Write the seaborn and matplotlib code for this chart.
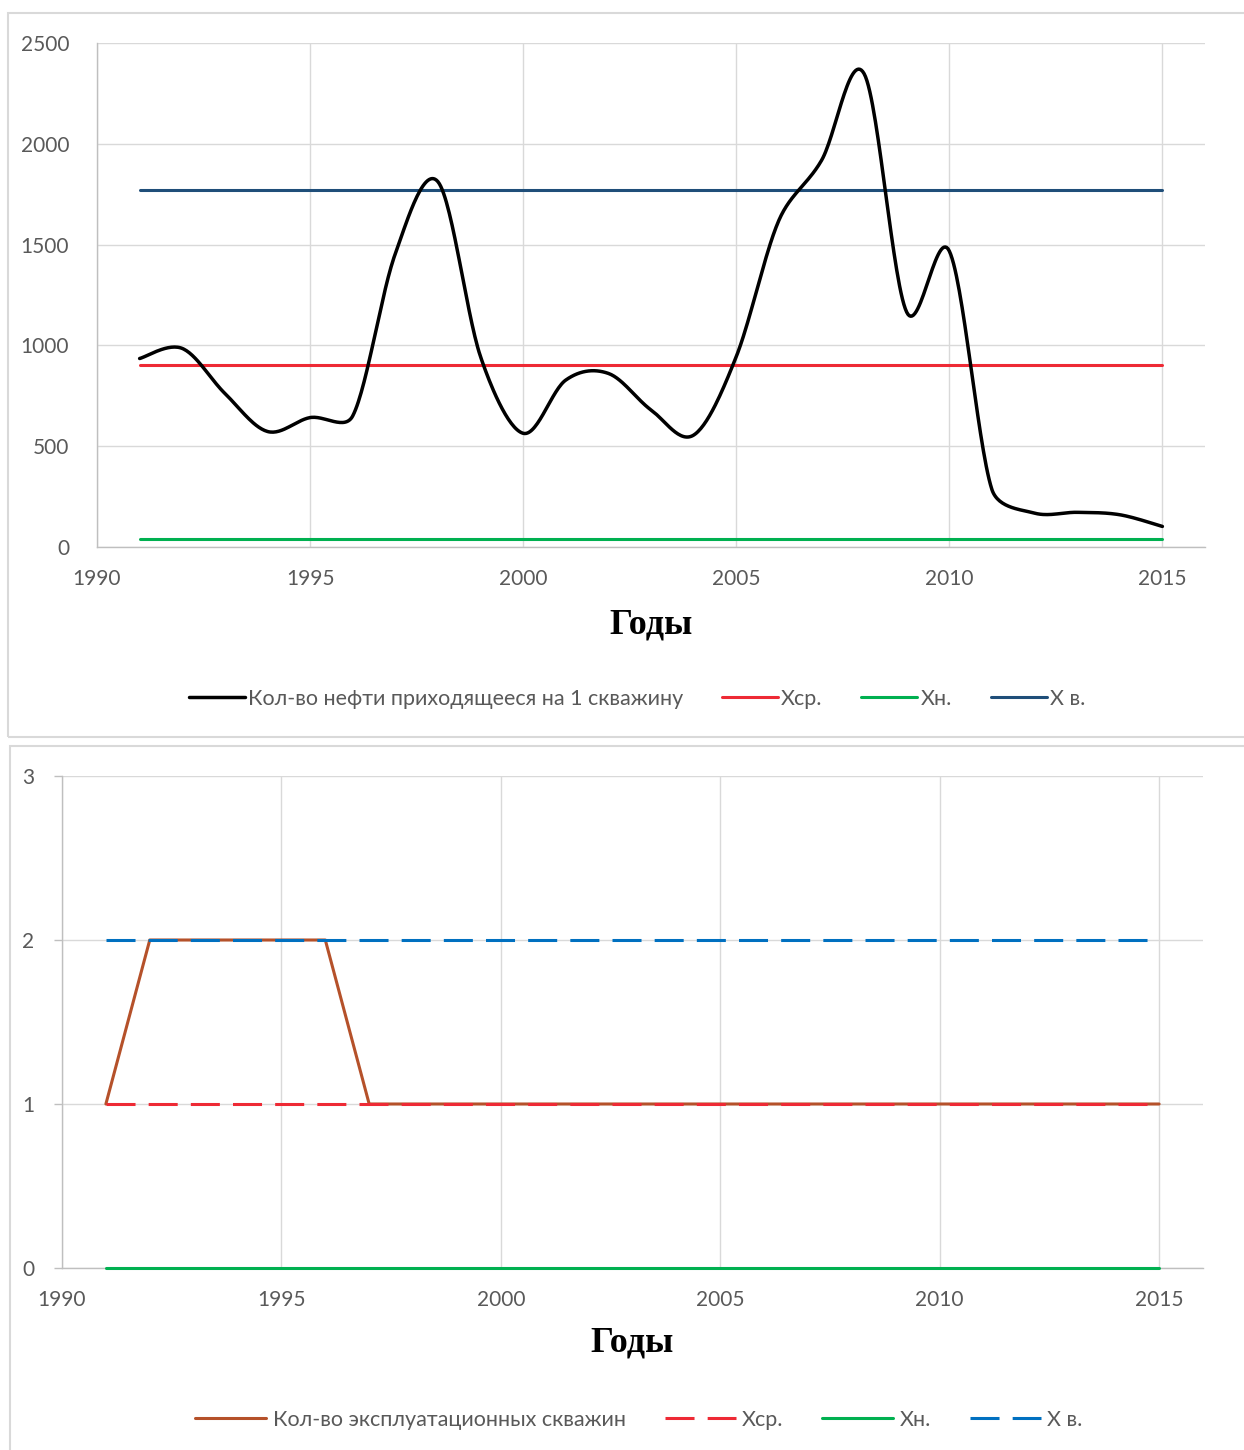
import numpy as np
import pandas as pd
import matplotlib
matplotlib.use("Agg")
import matplotlib.pyplot as plt
import seaborn as sns
from matplotlib.patches import Rectangle

# Годы
years = list(range(1991, 2016))

# Кол-во нефти приходящееся на 1 скважину
oil_per_well = [935, 985, 762, 573, 642, 650, 1455, 1812, 944, 564, 828, 861, 680,
                555, 944, 1620, 1917, 2348, 1165, 1468, 285, 168, 172, 160, 102]
oil_mean = 905   # Хср.
oil_low = 38     # Хн.
oil_high = 1770  # Х в.

# Кол-во эксплуатационных скважин
wells = [1, 2, 2, 2, 2, 2, 1, 1, 1, 1, 1, 1, 1, 1, 1, 1, 1, 1, 1, 1, 1, 1, 1, 1, 1]
wells_mean = 1
wells_low = 0
wells_high = 2

xticks = [1990, 1995, 2000, 2005, 2010, 2015]


def smooth(xs, ys, sx, sy, n=30, lim=0.4):
    # сглаженная линия (Безье, как в Excel), расчёт в пикселях
    P = np.column_stack([np.asarray(xs, float) * sx, np.asarray(ys, float) * sy])
    m = len(P)
    out = []
    for i in range(m - 1):
        p0 = P[i - 1] if i > 0 else P[i]
        p1 = P[i]
        p2 = P[i + 1]
        p3 = P[i + 2] if i + 2 < m else P[i + 1]
        L = np.hypot(*(p2 - p1))
        d1 = (p2 - p0) / 6
        d2 = (p3 - p1) / 6
        # ограничиваем длину касательных, чтобы не было выбросов
        if np.hypot(*d1) > lim * L:
            d1 = d1 * lim * L / np.hypot(*d1)
        if np.hypot(*d2) > lim * L:
            d2 = d2 * lim * L / np.hypot(*d2)
        c1 = p1 + d1
        c2 = p2 - d2
        t = np.linspace(0, 1, n, endpoint=(i == m - 2))[:, None]
        seg = (1 - t) ** 3 * p1 + 3 * (1 - t) ** 2 * t * c1 + 3 * (1 - t) * t ** 2 * c2 + t ** 3 * p2
        out.append(seg)
    out = np.vstack(out)
    return pd.DataFrame({'x': out[:, 0] / sx, 'y': out[:, 1] / sy})


sns.set_theme(style="white")
plt.rcParams['font.family'] = ['Lato', 'DejaVu Sans']

W, H = 1244, 1450
fig = plt.figure(figsize=(W / 100, H / 100), dpi=100)

# рамки панелей
fig.patches.append(Rectangle((8 / W, 1 - 737 / H), 1.1, (737 - 13) / H, transform=fig.transFigure,
                             fill=False, edgecolor='#d9d9d9', linewidth=1.5))
fig.patches.append(Rectangle((10 / W, -0.1), 1.1, 0.1 + (1450 - 746) / H, transform=fig.transFigure,
                             fill=False, edgecolor='#d9d9d9', linewidth=1.5))

tick_col = '#595959'
grid_col = '#d9d9d9'
fs = 15
lfs = 15.5


def style_axes(ax, ylim, yticks):
    ax.set_xlim(1990, 2016)
    ax.set_ylim(*ylim)
    ax.set_xticks(xticks)
    ax.set_yticks(yticks)
    ax.grid(True, color=grid_col, linewidth=1)
    for s in ['top', 'right']:
        ax.spines[s].set_visible(False)
    for s in ['left', 'bottom']:
        ax.spines[s].set_color('#bfbfbf')
        ax.spines[s].set_linewidth(1)
    ax.tick_params(colors=tick_col, labelsize=fs, labelcolor=tick_col)
    ax.set_xlabel('')
    ax.set_ylabel('')
    for ln in ax.lines:
        ln.set_clip_on(False)


# ---- верхний график ----
ax1 = fig.add_axes([97 / W, 1 - 547 / H, (1205 - 97) / W, (547 - 43) / H])
df_s = smooth(years, oil_per_well, sx=42.6, sy=504 / 2500)
n = len(years)
sns.lineplot(x=years, y=[oil_mean] * n, ax=ax1, color='#ee2a35', linewidth=2.2, label='Хср.', zorder=3)
sns.lineplot(x=years, y=[oil_low] * n, ax=ax1, color='#00b050', linewidth=2.2, label='Хн.', zorder=3)
sns.lineplot(x=years, y=[oil_high] * n, ax=ax1, color='#1f4e79', linewidth=2.2, label='Х в.', zorder=3)
sns.lineplot(data=df_s, x='x', y='y', ax=ax1, color='black', linewidth=2.5, sort=False,
             label='Кол-во нефти приходящееся на 1 скважину', zorder=4)
style_axes(ax1, (0, 2500), [0, 500, 1000, 1500, 2000, 2500])
ax1.tick_params(axis='y', length=0, pad=20)
ax1.tick_params(axis='x', length=0, pad=16)
ax1.get_legend().remove()
h, l = ax1.get_legend_handles_labels()
order = [3, 0, 1, 2]
fig.legend([h[i] for i in order], [l[i] for i in order], loc='center',
           bbox_to_anchor=(637 / W, 1 - 699 / H), ncol=4, frameon=False, fontsize=lfs,
           handlelength=2.6, handletextpad=0.15, columnspacing=1.8, labelcolor=tick_col)
fig.text(651 / W, 1 - 625 / H, 'Годы', ha='center', va='center', fontsize=26,
         fontweight='bold', family=['Liberation Serif', 'DejaVu Serif'], color='black')

# ---- нижний график ----
ax2 = fig.add_axes([62 / W, 1 - 1268 / H, (1203 - 62) / W, (1268 - 776) / H])
sns.lineplot(x=years, y=wells, ax=ax2, color='#b5512a', linewidth=2.2,
             label='Кол-во эксплуатационных скважин', zorder=2)
sns.lineplot(x=years, y=[wells_mean] * n, ax=ax2, color='#ee2a35', linewidth=2.2, label='Хср.',
             zorder=3).lines[-1].set_dashes((9.5, 4.3))
sns.lineplot(x=years, y=[wells_low] * n, ax=ax2, color='#00b050', linewidth=2.2, label='Хн.', zorder=3)
sns.lineplot(x=years, y=[wells_high] * n, ax=ax2, color='#0070c0', linewidth=2.2, label='Х в.',
             zorder=3).lines[-1].set_dashes((9.5, 4.3))
style_axes(ax2, (0, 3), [0, 1, 2, 3])
ax2.tick_params(axis='y', length=6, width=1, color='#bfbfbf', pad=14, left=True)
ax2.tick_params(axis='x', length=0, pad=16)
ax2.get_legend().remove()
h, l = ax2.get_legend_handles_labels()
fig.legend(h, l, loc='center', bbox_to_anchor=(639 / W, 1 - 1420 / H), ncol=4, frameon=False,
           fontsize=lfs, handlelength=3.3, handletextpad=0.3, columnspacing=1.8, labelcolor=tick_col)
fig.text(632 / W, 1 - 1343 / H, 'Годы', ha='center', va='center', fontsize=26,
         fontweight='bold', family=['Liberation Serif', 'DejaVu Serif'], color='black')

fig.savefig('out.png', dpi=100)
